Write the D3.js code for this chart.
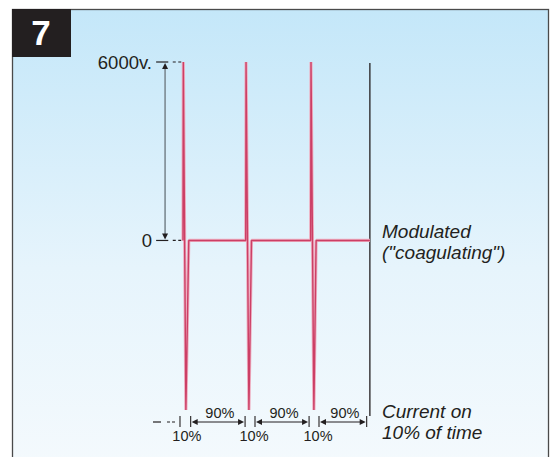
<!DOCTYPE html>
<html><head><meta charset="utf-8">
<script src="https://cdn.jsdelivr.net/npm/d3@7"></script>
<style>body{margin:0;background:#fff}svg{display:block}</style>
</head><body>
<svg id="c" width="555" height="457"></svg>
<script>
// ---- data ----
const panelNumber = "7";
const voltageTicks = [ {v: 6000, label: "6000v."}, {v: 0, label: "0"} ];
// waveform: time (in pulse periods) and voltage
const waveT = [0, 0.005, 0.045, 0.09, 0.98, 0.985, 1.03, 1.07, 1.995, 2.0, 2.045, 2.08, 2.92];
const waveV = [0, 6000, -5700, 0, 0, 6000, -5700, 0, 0, 6000, -5700, 0, 0];
const endLineT = 2.92;
const dutyTicks = [-0.047, 0.12, 0.97, 1.125, 1.97, 2.125, 2.87];
const onLabels = ["10%", "10%", "10%"];
const offLabels = ["90%", "90%", "90%"];
const waveLabel = ["Modulated", "(\"coagulating\")"];
const dutyLabel = ["Current on", "10% of time"];

const svg = d3.select("#c");
const font = "'Liberation Sans', Arial, Helvetica, sans-serif";
const ink = "#231f20";

const x = d3.scaleLinear().domain([0, 3]).range([183, 375]);
const y = d3.scaleLinear().domain([-5700, 6000]).range([410, 62]);

// background panel
const defs = svg.append("defs");
const g = defs.append("linearGradient").attr("id", "bg").attr("x1", 0).attr("y1", 0).attr("x2", 0).attr("y2", 1);
g.append("stop").attr("offset", "0%").attr("stop-color", "#c4e7f9");
g.append("stop").attr("offset", "55%").attr("stop-color", "#e6f4fc");
g.append("stop").attr("offset", "100%").attr("stop-color", "#f5fafd");
svg.append("rect").attr("x", 12.5).attr("y", 9.5).attr("width", 536).attr("height", 470)
  .attr("fill", "url(#bg)").attr("stroke", "#4a4a4a").attr("stroke-width", 1.3);

// number box
svg.append("rect").attr("x", 12).attr("y", 9).attr("width", 59).attr("height", 48).attr("fill", "#231f20");
svg.append("text").attr("x", 41).attr("y", 45).attr("text-anchor", "middle")
  .attr("font-family", font).attr("font-weight", "bold").attr("font-size", 35).attr("fill", "#fff").text(panelNumber);

// arrowhead helper
function arrowHead(px, py, dir, color) { // dir: 'up','down','left','right'
  const L = 6, W = 3;
  let pts;
  if (dir === "up") pts = [[px, py], [px - W, py + L], [px + W, py + L]];
  if (dir === "down") pts = [[px, py], [px - W, py - L], [px + W, py - L]];
  if (dir === "left") pts = [[px, py], [px + L, py - W], [px + L, py + W]];
  if (dir === "right") pts = [[px, py], [px - L, py - W], [px - L, py + W]];
  svg.append("path").attr("d", "M" + pts.map(p => p.join(",")).join("L") + "Z").attr("fill", color);
}

// voltage labels and leaders
voltageTicks.forEach(d => {
  const yy = y(d.v);
  svg.append("text").attr("x", 152).attr("y", yy + 6.5).attr("text-anchor", "end")
    .attr("font-family", font).attr("font-size", 18.5).attr("fill", ink).text(d.label);
  svg.append("line").attr("x1", x(-0.42)).attr("x2", x(-0.23)).attr("y1", yy).attr("y2", yy)
    .attr("stroke", ink).attr("stroke-width", 1.2);
  svg.append("line").attr("x1", x(-0.16)).attr("x2", x(-0.01)).attr("y1", yy).attr("y2", yy)
    .attr("stroke", ink).attr("stroke-width", 1.2).attr("stroke-dasharray", "3,2.5");
});
// vertical dimension arrow
const ax = x(-0.28);
svg.append("line").attr("x1", ax).attr("x2", ax).attr("y1", y(6000) + 4).attr("y2", y(0) - 4)
  .attr("stroke", "#7d8a92").attr("stroke-width", 1.6);
arrowHead(ax, y(6000) + 1, "up", ink);
arrowHead(ax, y(0) - 1, "down", ink);

// end line
svg.append("line").attr("x1", x(endLineT)).attr("x2", x(endLineT)).attr("y1", y(6000) + 1).attr("y2", y(-5900))
  .attr("stroke", ink).attr("stroke-width", 1.3);

// waveform
const wave = waveT.map((t, i) => [t, waveV[i]]);
const line = d3.line().x(d => x(d[0])).y(d => y(d[1]));
svg.append("path").attr("d", line(wave)).attr("fill", "none").attr("stroke", "#eeafc1")
  .attr("stroke-width", 3.2).attr("stroke-linejoin", "miter").attr("stroke-miterlimit", 1);
svg.append("path").attr("d", line(wave)).attr("fill", "none").attr("stroke", "#cc3f66")
  .attr("stroke-width", 1.4).attr("stroke-linejoin", "miter").attr("stroke-miterlimit", 1);

// duty-cycle dimension row
const by = 422;
svg.append("line").attr("x1", 153).attr("x2", 161).attr("y1", by).attr("y2", by).attr("stroke", ink).attr("stroke-width", 1.2);
svg.append("line").attr("x1", 167).attr("x2", 176).attr("y1", by).attr("y2", by).attr("stroke", ink)
  .attr("stroke-width", 1.2).attr("stroke-dasharray", "3,2");
dutyTicks.forEach(t => {
  svg.append("line").attr("x1", x(t)).attr("x2", x(t)).attr("y1", 416).attr("y2", 427)
    .attr("stroke", ink).attr("stroke-width", 1.1);
});
for (let i = 0; i < 3; i++) {
  const a = x(dutyTicks[2 * i + 1]), b = x(dutyTicks[2 * i + 2]);
  svg.append("line").attr("x1", a + 3).attr("x2", b - 3).attr("y1", by).attr("y2", by).attr("stroke", ink).attr("stroke-width", 1);
  arrowHead(a + 1, by, "left", ink);
  arrowHead(b - 1, by, "right", ink);
  svg.append("text").attr("x", (a + b) / 2 + 2).attr("y", 418).attr("text-anchor", "middle")
    .attr("font-family", font).attr("font-size", 14.5).attr("fill", ink).text(offLabels[i]);
}
[0, 1, 2].forEach(i => {
  const mid = (x(dutyTicks[2 * i]) + x(dutyTicks[2 * i + 1])) / 2;
  const c = i === 0 ? mid + 1.5 : mid + 4;
  svg.append("text").attr("x", c).attr("y", 441).attr("text-anchor", "middle")
    .attr("font-family", font).attr("font-size", 14.5).attr("fill", ink).text(onLabels[i]);
});

// right-hand labels
function label(lines, y0) {
  lines.forEach((s, i) => {
    svg.append("text").attr("x", 382).attr("y", y0 + i * 20.5)
      .attr("font-family", font).attr("font-style", "italic").attr("font-size", 19).attr("fill", ink).text(s);
  });
}
label(waveLabel, 238);
label(dutyLabel, 418);
</script>
</body></html>
